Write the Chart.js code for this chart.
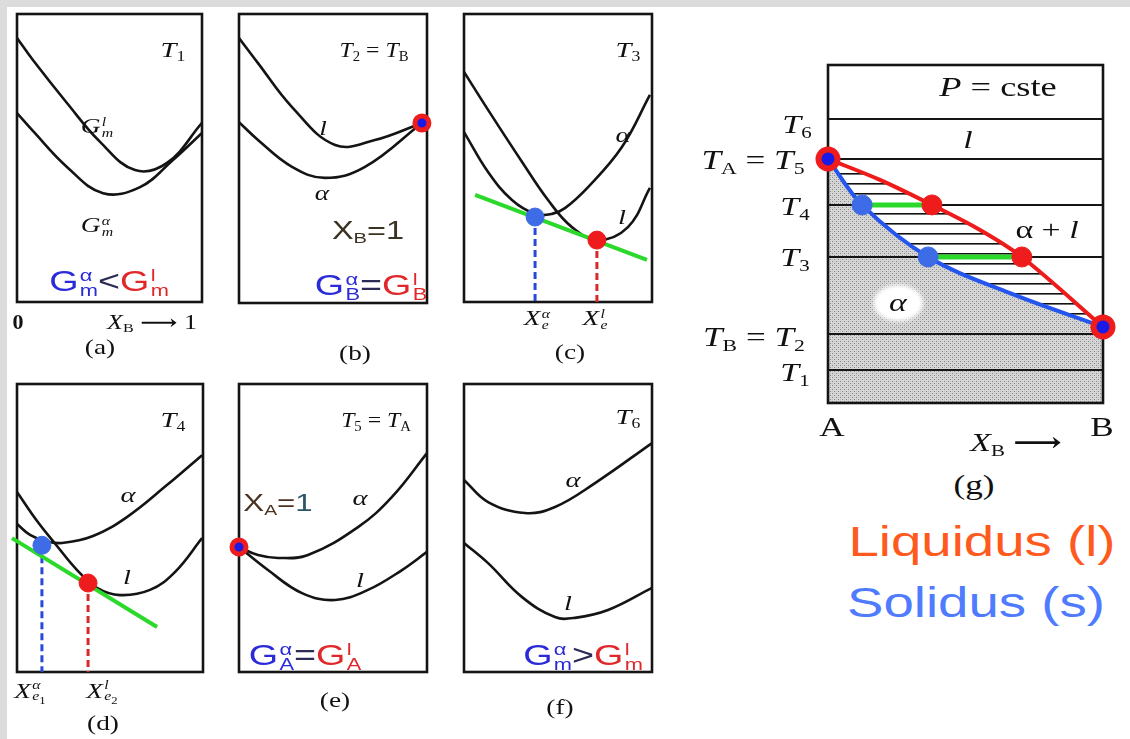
<!DOCTYPE html>
<html><head><meta charset="utf-8">
<script src="https://cdn.jsdelivr.net/npm/chart.js@4.4.0/dist/chart.umd.min.js"></script>
<style>
html,body{margin:0;padding:0;background:#fff;}
body{width:1130px;height:739px;position:relative;overflow:hidden;}
#topbar{position:absolute;left:0;top:0;width:1130px;height:7px;background:#dcdcdc;}
#leftbar{position:absolute;left:0;top:0;width:7px;height:739px;background:#dcdcdc;}
canvas{position:absolute;}
.lab{position:absolute;white-space:nowrap;line-height:1;color:#111;}
.ss{display:inline-flex;flex-direction:column;font-size:0.58em;line-height:0.92;vertical-align:middle;text-align:left;margin-left:1px;}
.sb{font-size:0.62em;position:relative;top:0.28em;}
</style></head><body>
<div id="topbar"></div><div id="leftbar"></div>
<script>
// ---------------- DATA ----------------
// Gibbs energy curves, points [X_B, G] (G in arbitrary units, 0..100 per panel)
const gA_liquid = [[0,91.7],[0.086,84.0],[0.27,69.1],[0.449,55.6],[0.638,45.8],[0.811,48.3],[1,62.2]];
const gA_alpha  = [[0,65.6],[0.086,59.4],[0.27,46.9],[0.465,37.8],[0.665,39.9],[0.843,49.3],[1,58.7]];

const gB_liquid = [[0,91.7],[0.101,83.0],[0.282,67.8],[0.511,54.7],[0.723,56.4],[0.973,62.3]];
const gB_alpha  = [[0,62.6],[0.101,56.4],[0.282,47.1],[0.457,43.3],[0.670,47.1],[0.973,62.3]];
const gB_pureB  = [0.973,62.3];

const gC_liquid = [[0,79.9],[0.128,66.7],[0.309,48.6],[0.447,35.4],[0.574,26.0],[0.713,21.5],[0.872,26.0],[0.989,39.6]];
const gC_alpha  = [[0,59.0],[0.128,45.1],[0.255,35.4],[0.378,30.6],[0.468,30.6],[0.537,32.6],[0.66,39.9],[0.84,53.8],[0.989,71.9]];
const gC_tangent = [[0.059,37.2],[0.973,14.6]];
const gC_eqAlpha  = [0.378,29.5];
const gC_eqLiquid = [0.707,21.5];

const gD_liquid = [[0,62.5],[0.108,52.4],[0.215,43.75],[0.323,35.4],[0.430,29.2],[0.554,26.7],[0.715,28.5],[0.849,34.7],[0.995,46.5]];
const gD_alpha  = [[0,51.4],[0.07,47.6],[0.151,45.5],[0.242,44.8],[0.409,47.2],[0.591,53.8],[0.806,64.9],[0.995,75.3]];
const gD_tangent = [[-0.027,46.5],[0.753,15.6]];
const gD_eqAlpha  = [0.134,44.0];
const gD_eqLiquid = [0.382,30.9];

const gE_alpha  = [[0,43.4],[0.101,40.6],[0.207,39.6],[0.367,40.6],[0.633,50.3],[0.814,60.8],[1,76.0]];
const gE_liquid = [[0,43.4],[0.154,35.4],[0.335,27.4],[0.511,25.0],[0.686,28.5],[0.867,35.4],[1,41.7]];
const gE_pureA  = [0,43.4];

const gF_alpha  = [[0,66.7],[0.128,59.0],[0.324,55.2],[0.484,57.3],[0.697,65.6],[1,79.5]];
const gF_liquid = [[0,44.8],[0.128,37.8],[0.309,26.0],[0.484,19.1],[0.590,18.8],[0.766,21.5],[1,29.2]];

// Phase diagram (g): temperature levels T1..T6 and boundary curves [X_B, T]
const tempLevels = [9.8, 20.4, 43.2, 58.6, 72.2, 84.0];
const liquidus = [[0,72.2],[0.189,66.0],[0.378,58.6],[0.553,51.2],[0.705,43.2],[1,22.5]];
const solidus  = [[0,72.2],[0.124,58.6],[0.364,43.2],[0.662,32.5],[1,22.5]];
const tieT4 = [0.124, 0.378];   // solidus / liquidus compositions at T4
const tieT3 = [0.364, 0.705];   // solidus / liquidus compositions at T3

// ---------------- HELPERS ----------------
const PAD = 16;
const BLK = '#141414', GREEN = '#2bd92b', RED = '#ee1c1c', BLUE = '#3d6ce6', DBLUE = '#1a1ae6';
const pts = a => a.map(p => ({x:p[0], y:p[1]}));
const frame = {id:'frame', beforeDatasetsDraw(chart){
  const {ctx, chartArea:c} = chart; ctx.save(); ctx.lineWidth = 2.6; ctx.strokeStyle = BLK;
  ctx.strokeRect(c.left, c.top, c.right-c.left, c.bottom-c.top); ctx.restore(); }};

function curve(a, color, w, order, ten){ return {data:pts(a), borderColor:color||BLK, borderWidth:w||2.6, pointRadius:0,
  tension:(ten==null?0.4:ten), fill:false, order:order||3}; }
function seg(a, color, w, dash, order){ return {data:pts(a), borderColor:color, borderWidth:w, borderDash:dash||[],
  pointRadius:0, tension:0, fill:false, clip:false, order:order||4}; }
function dot(p, bg, border, r, bw){ return {data:pts([p]), showLine:false, pointStyle:'circle', pointRadius:r,
  pointBackgroundColor:bg, pointBorderColor:border, pointBorderWidth:bw, clip:false, order:0}; }
function drop(p, color){ return seg([[p[0],p[1]],[p[0],0]], color, 3, [7,4], 5); }

function makeChart(L, T, R, B, datasets, ymax){
  const cv = document.createElement('canvas');
  const w = R-L+2*PAD, h = B-T+2*PAD;
  cv.width = w; cv.height = h;
  cv.style.left = (L-PAD)+'px'; cv.style.top = (T-PAD)+'px';
  cv.style.width = w+'px'; cv.style.height = h+'px';
  document.body.appendChild(cv);
  return new Chart(cv, {type:'line', data:{datasets},
    options:{responsive:false, animation:false, events:[], devicePixelRatio:1, layout:{padding:PAD},
      scales:{x:{type:'linear', min:0, max:1, display:false}, y:{type:'linear', min:0, max:ymax||100, display:false}},
      plugins:{legend:{display:false}, tooltip:{enabled:false}, filler:{drawTime:'beforeDatasetsDraw', propagate:false}}},
    plugins:[frame]});
}

// ---------------- PANELS a-f ----------------
makeChart(17,14,202,302,[curve(gA_liquid), curve(gA_alpha)]);
makeChart(239,14,427,303,[curve(gB_liquid), curve(gB_alpha), dot(gB_pureB, DBLUE, RED, 7, 5)]);
makeChart(464,14,652,302,[curve(gC_liquid), curve(gC_alpha), seg(gC_tangent, GREEN, 4, [], 2),
  drop(gC_eqAlpha, '#2848d8'), drop(gC_eqLiquid, '#d82828'),
  dot(gC_eqAlpha, BLUE, BLUE, 9, 1), dot(gC_eqLiquid, RED, RED, 9, 1)]);
makeChart(17,384,203,672,[curve(gD_liquid), curve(gD_alpha), seg(gD_tangent, GREEN, 4, [], 2),
  drop(gD_eqAlpha, '#2848d8'), drop(gD_eqLiquid, '#d82828'),
  dot(gD_eqAlpha, BLUE, BLUE, 9, 1), dot(gD_eqLiquid, RED, RED, 9, 1)]);
makeChart(239,384,427,672,[curve(gE_alpha), curve(gE_liquid), dot(gE_pureA, DBLUE, RED, 7, 5)]);
makeChart(464,384,652,672,[curve(gF_alpha), curve(gF_liquid)]);

// ---------------- PANEL g ----------------
function hatchPattern(){ const c = document.createElement('canvas'); c.width = 10; c.height = 10;
  const x = c.getContext('2d'); x.fillStyle = '#111'; x.fillRect(0,4,10,1.6);
  return x.createPattern(c,'repeat'); }
function stipplePattern(){ const c = document.createElement('canvas'); c.width = 4; c.height = 4;
  const x = c.getContext('2d'); x.fillStyle = '#d6d6d6'; x.fillRect(0,0,4,4);
  x.fillStyle = '#888'; x.fillRect(0,0,1,1); x.fillRect(2,2,1,1);
  x.fillStyle = '#c0c0c0'; x.fillRect(2,0,1,1); x.fillRect(0,2,1,1);
  return x.createPattern(c,'repeat'); }

const gSets = [];
gSets.push(Object.assign(curve(solidus, '#2455ee', 4, 2, 0.35), {fill:'start', backgroundColor:stipplePattern()}));  // index 0
gSets.push(Object.assign(curve(liquidus, '#ee1b1b', 4, 2, 0.35), {fill:0, backgroundColor:hatchPattern()}));       // index 1
tempLevels.forEach(t => gSets.push(seg([[0,t],[1,t]], BLK, 2, [], 6)));
gSets.push(seg([[tieT4[0],tempLevels[3]],[tieT4[1],tempLevels[3]]], GREEN, 5, [], 1));
gSets.push(seg([[tieT3[0],tempLevels[2]],[tieT3[1],tempLevels[2]]], GREEN, 5, [], 1));
gSets.push(dot([tieT4[0],tempLevels[3]], BLUE, BLUE, 10, 1));
gSets.push(dot([tieT3[0],tempLevels[2]], BLUE, BLUE, 10, 1));
gSets.push(dot([tieT4[1],tempLevels[3]], RED, RED, 10, 1));
gSets.push(dot([tieT3[1],tempLevels[2]], RED, RED, 10, 1));
gSets.push(dot(liquidus[0], DBLUE, RED, 9.5, 6));
gSets.push(dot(liquidus[liquidus.length-1], DBLUE, RED, 9.5, 6));
makeChart(828,65,1103,403,gSets);

// ---------------- TEXT ----------------
const SER = '"Liberation Serif","DejaVu Serif",serif', SAN = '"Liberation Sans",Arial,sans-serif';
const ss = (a,b) => '<span class="ss"><span>'+a+'</span><span>'+b+'</span></span>';
const sb = a => '<span class="sb">'+a+'</span>';
const cB = '#2a2ad8', cR = '#e0282a', cO = '#2b2b55';
function eq(sA, op, sL){ return '<span style="color:'+cB+'">G'+ss('α',sA)+'</span><span style="color:'+cO+'">'+op+
  '</span><span style="color:'+cR+'">G'+ss('l',sL)+'</span>'; }
function lab(x, y, html, fam, size, opt){
  opt = opt || {};
  const d = document.createElement('div'); d.className = 'lab'; d.innerHTML = html;
  d.style.fontFamily = fam; d.style.fontSize = size+'px';
  if (opt.color) d.style.color = opt.color;
  if (opt.bold) d.style.fontWeight = 'bold';
  if (opt.css) d.style.cssText += opt.css;
  d.style.left = x+'px'; d.style.top = y+'px';
  d.style.transform = 'translate(-50%,-50%) scaleX('+(opt.sx||1.3)+')';
  document.body.appendChild(d);
}
const T = n => '<i>T</i>'+sb(n);
// panel a
lab(173,50,T('1'),SER,22);
lab(97,128,'<i>G</i>'+ss('<i>l</i>','<i>m</i>'),SER,21);
lab(97,227,'<i>G</i>'+ss('<i>α</i>','<i>m</i>'),SER,21);
lab(109,283,eq('m','&lt;','m'),SAN,29);
lab(18,322,'0',SER,20,{bold:true,sx:1.1});
lab(152,322,'<i>X</i>'+sb('B')+' <b>⟶</b> 1',SER,20);
lab(100,347,'(a)',SER,21);
// panel b
lab(374,50,T('2')+' = '+T('B'),SER,22,{sx:1.08});
lab(323,128,'<i>l</i>',SER,21);
lab(322,193,'<i>α</i>',SER,21);
lab(368,230,'X'+sb('B')+'=1',SAN,25,{color:'#3b3322'});
lab(371,287,eq('B','=','B'),SAN,29);
lab(355,353,'(b)',SER,21);
// panel c
lab(628,50,T('3'),SER,22);
lab(623,135,'<i>α</i>',SER,22);
lab(622,217,'<i>l</i>',SER,22);
lab(537,320,'<i>X</i>'+ss('<i>α</i>','<i>e</i>'),SER,21);
lab(595,320,'<i>X</i>'+ss('<i>l</i>','<i>e</i>'),SER,21);
lab(570,352,'(c)',SER,21);
// panel d
lab(173,420,T('4'),SER,22);
lab(128,495,'<i>α</i>',SER,22);
lab(127,577,'<i>l</i>',SER,22);
lab(30,693,'<i>X</i>'+ss('<i>α</i>','<i>e</i><sub style="font-size:0.8em">1</sub>'),SER,21);
lab(102,693,'<i>X</i>'+ss('<i>l</i>','<i>e</i><sub style="font-size:0.8em">2</sub>'),SER,21);
lab(103,723,'(d)',SER,21);
// panel e
lab(376,420,T('5')+' = '+T('A'),SER,22,{sx:1.08});
lab(278,503,'X'+sb('A')+'=<span style="color:#2a5566">1</span>',SAN,24,{color:'#4a3322'});
lab(360,498,'<i>α</i>',SER,22);
lab(360,580,'<i>l</i>',SER,22);
lab(305,657,eq('A','=','A'),SAN,29);
lab(335,700,'(e)',SER,21);
// panel f
lab(628,417,T('6'),SER,22);
lab(573,480,'<i>α</i>',SER,22);
lab(568,603,'<i>l</i>',SER,22);
lab(583,657,eq('m','&gt;','m'),SAN,29);
lab(560,707,'(f)',SER,21);
// panel g
lab(998,87,'<i>P</i> = cste',SER,28);
lab(797,125,T('6'),SER,26);
lab(753,160,T('A')+' = '+T('5'),SER,27);
lab(795,207,T('4'),SER,26);
lab(795,258,T('3'),SER,26);
lab(754,337,T('B')+' = '+T('2'),SER,27);
lab(795,373,T('1'),SER,26);
lab(968,140,'<i>l</i>',SER,26);
lab(1047,230,'α + <i>l</i>',SER,26);
lab(898,303,'<i>α</i>',SER,26,{css:'background:#fff;padding:2px 9px;border-radius:50%;box-shadow:0 0 4px 3px #fff;'});
lab(832,427,'A',SER,27);
lab(1102,427,'B',SER,27);
lab(1016,443,'<i>X</i>'+sb('B')+' <b>⟶</b>',SER,26);
lab(974,485,'(g)',SER,27);
lab(982,542,'Liquidus (l)',SAN,42,{color:'#ff5a1e'});
lab(976,603,'Solidus (s)',SAN,42,{color:'#4f7bff'});
</script>
</body></html>
